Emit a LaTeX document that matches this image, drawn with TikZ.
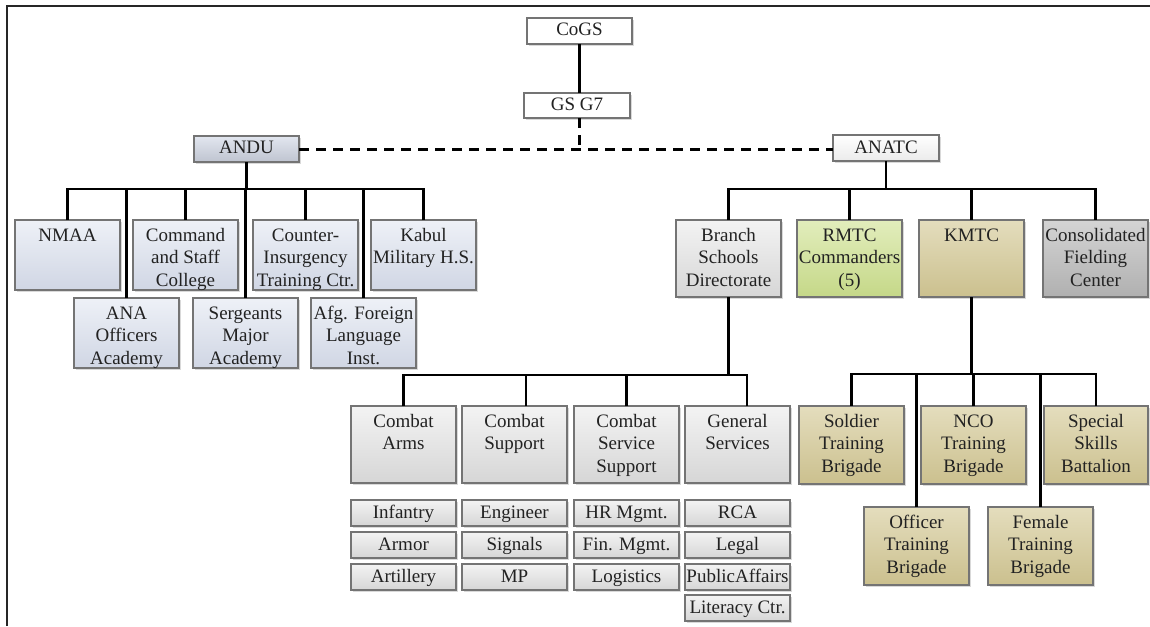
\documentclass[tikz,border=0pt]{standalone}
\usepackage{fontspec}
\setmainfont{Liberation Serif}
\usetikzlibrary{shadows}
\definecolor{edge}{HTML}{747474}
\definecolor{txt}{HTML}{222222}
\definecolor{bluetop}{HTML}{EEF1F7}
\definecolor{bluebot}{HTML}{D0D6E4}
\definecolor{graytop}{HTML}{F3F3F3}
\definecolor{graybot}{HTML}{D6D6D6}
\definecolor{greentop}{HTML}{E2EDBC}
\definecolor{greenbot}{HTML}{C5D888}
\definecolor{tantop}{HTML}{E4DDBD}
\definecolor{tanbot}{HTML}{CBC08E}
\definecolor{dgtop}{HTML}{D4D4D4}
\definecolor{dgbot}{HTML}{B0B0B0}
\newcommand{\tbx}[3]{\parbox[c][#2][t]{#1}{\centering\rule{0pt}{10.5pt}#3\par}}
\tikzset{
  box/.style={draw=edge, line width=0.6pt, inner sep=0pt, outer sep=0pt,
    anchor=north west, text=txt, font=\rmfamily\fontsize{9.5pt}{11.4pt}\selectfont,
    drop shadow={shadow xshift=0.9pt, shadow yshift=-0.9pt, opacity=0.3}},
  bbox/.style={box, top color=bluetop, bottom color=bluebot},
  gbox/.style={box, top color=graytop, bottom color=graybot},
  grbox/.style={box, top color=greentop, bottom color=greenbot},
  tbox/.style={box, top color=tantop, bottom color=tanbot},
  dbox/.style={box, top color=dgtop, bottom color=dgbot},
  wbox/.style={box, fill=white, minimum height=13pt, text height=7pt, text depth=2pt},
  sbox/.style={gbox, minimum width=52.5pt, minimum height=13pt, text height=7pt, text depth=2pt},
  link/.style={line width=1.3pt, black},
  dlink/.style={line width=1.5pt, black, dash pattern=on 5pt off 3.5pt},
  frameline/.style={line width=1pt, black!85}
}
\begin{document}
\begin{tikzpicture}[x=0.5pt, y=-0.5pt]
\useasboundingbox (0,0) rectangle (1150,626);
\draw[frameline] (7,626) -- (7,6) -- (1150,6);

% top
\node[wbox, minimum width=52.5pt] (cogs) at (527,18) {CoGS};
\node[wbox, minimum width=53pt, minimum height=12.5pt] (gsg) at (524,93) {GS G7};
\node[box, top color=bluetop!60!bluebot, bottom color=bluebot!90!black!95, minimum width=52.5pt, minimum height=13pt, text height=7pt, text depth=2pt] (andu) at (194,136) {ANDU};
\node[box, top color=white, bottom color=black!8, minimum width=53pt, minimum height=13pt, text height=7pt, text depth=2pt] (anatc) at (833,135) {ANATC};

% ANDU children
\node[bbox] (nmaa) at (15,220) {\tbx{52.5pt}{35pt}{NMAA}};
\node[bbox] (csc) at (133,220) {\tbx{52.5pt}{35pt}{Command\\and Staff\\College}};
\node[bbox] (coin) at (253,220) {\tbx{52.5pt}{35pt}{Counter-\\Insurgency\\Training Ctr.}};
\node[bbox] (kabul) at (371,220) {\tbx{52.5pt}{35pt}{Kabul\\Military H.S.}};
\node[bbox] (ana) at (74,298) {\tbx{52.5pt}{35pt}{ANA\\Officers\\Academy}};
\node[bbox] (sma) at (193,298) {\tbx{52.5pt}{35pt}{Sergeants\\Major\\Academy}};
\node[bbox] (afli) at (311,298) {\tbx{52.5pt}{35pt}{Afg. Foreign\\Language\\Inst.}};

% ANATC children
\node[gbox] (bsd) at (676,220) {\tbx{52.5pt}{38.5pt}{Branch\\Schools\\Directorate}};
\node[grbox] (rmtc) at (797,220) {\tbx{52.5pt}{38.5pt}{RMTC\\Commanders\\(5)}};
\node[tbox] (kmtc) at (919,220) {\tbx{52.5pt}{38.5pt}{KMTC}};
\node[dbox] (cfc) at (1043,220) {\tbx{52.5pt}{38.5pt}{Consolidated\\Fielding\\Center}};

% Branch schools children
\node[gbox] (ca) at (351,406) {\tbx{52.5pt}{38.5pt}{Combat\\Arms}};
\node[gbox] (cs) at (462,406) {\tbx{52.5pt}{38.5pt}{Combat\\Support}};
\node[gbox] (css) at (574,406) {\tbx{52.5pt}{38.5pt}{Combat\\Service\\Support}};
\node[gbox] (gsv) at (685,406) {\tbx{52.5pt}{38.5pt}{General\\Services}};

\node[sbox] (inf) at (351,500) {Infantry};
\node[sbox] (arm) at (351,532) {Armor};
\node[sbox] (art) at (351,564) {Artillery};
\node[sbox] (eng) at (462,500) {Engineer};
\node[sbox] (sig) at (462,532) {Signals};
\node[sbox] (mp) at (462,564) {MP};
\node[sbox] (hr) at (574,500) {HR Mgmt.};
\node[sbox] (fin) at (574,532) {Fin. Mgmt.};
\node[sbox] (log) at (574,564) {Logistics};
\node[sbox] (rca) at (685,500) {RCA};
\node[sbox] (leg) at (685,532) {Legal};
\node[sbox] (pa) at (685,564) {PublicAffairs};
\node[sbox] (lit) at (685,595) {Literacy Ctr.};

% KMTC children
\node[tbox] (stb) at (799,406) {\tbx{52.5pt}{39pt}{Soldier\\Training\\Brigade}};
\node[tbox] (nco) at (921,406) {\tbx{52.5pt}{39pt}{NCO\\Training\\Brigade}};
\node[tbox] (ssb) at (1044,406) {\tbx{52pt}{39pt}{Special\\Skills\\Battalion}};
\node[tbox] (otb) at (864,507) {\tbx{52.5pt}{39pt}{Officer\\Training\\Brigade}};
\node[tbox] (ftb) at (988,507) {\tbx{52.5pt}{39pt}{Female\\Training\\Brigade}};

% bus levels
\coordinate (ya) at (0,189);
\coordinate (yc) at (0,375);
\coordinate (yd) at (0,374);

% connectors
\draw[link] (cogs.south) -- (cogs.south |- gsg.north);
\draw[dlink] (cogs.south |- gsg.south) -- (cogs.south |- andu.east);
\draw[dlink] (andu.east) -- (andu.east -| anatc.west);

\draw[link] (andu.south) -- (andu.south |- ya);
\foreach \n in {nmaa,csc,coin,kabul,ana,sma,afli}
  \draw[link] (\n.north) |- (andu.south |- ya);

\draw[link] (anatc.south) -- (anatc.south |- ya);
\foreach \n in {bsd,rmtc,kmtc,cfc}
  \draw[link] (\n.north) |- (anatc.south |- ya);

\draw[link] (bsd.south) -- (bsd.south |- yc);
\draw[link] (ca.north) |- (bsd.south |- yc);
\draw[link] ([xshift=5.75pt]cs.north) |- (bsd.south |- yc);
\draw[link] (css.north) |- (bsd.south |- yc);
\draw[link] ([xshift=4.75pt]gsv.north) |- (bsd.south |- yc);

\draw[link] (kmtc.south) -- (kmtc.south |- yd);
\foreach \n in {stb,nco,ssb,otb,ftb}
  \draw[link] (\n.north) |- (kmtc.south |- yd);
\end{tikzpicture}
\end{document}
